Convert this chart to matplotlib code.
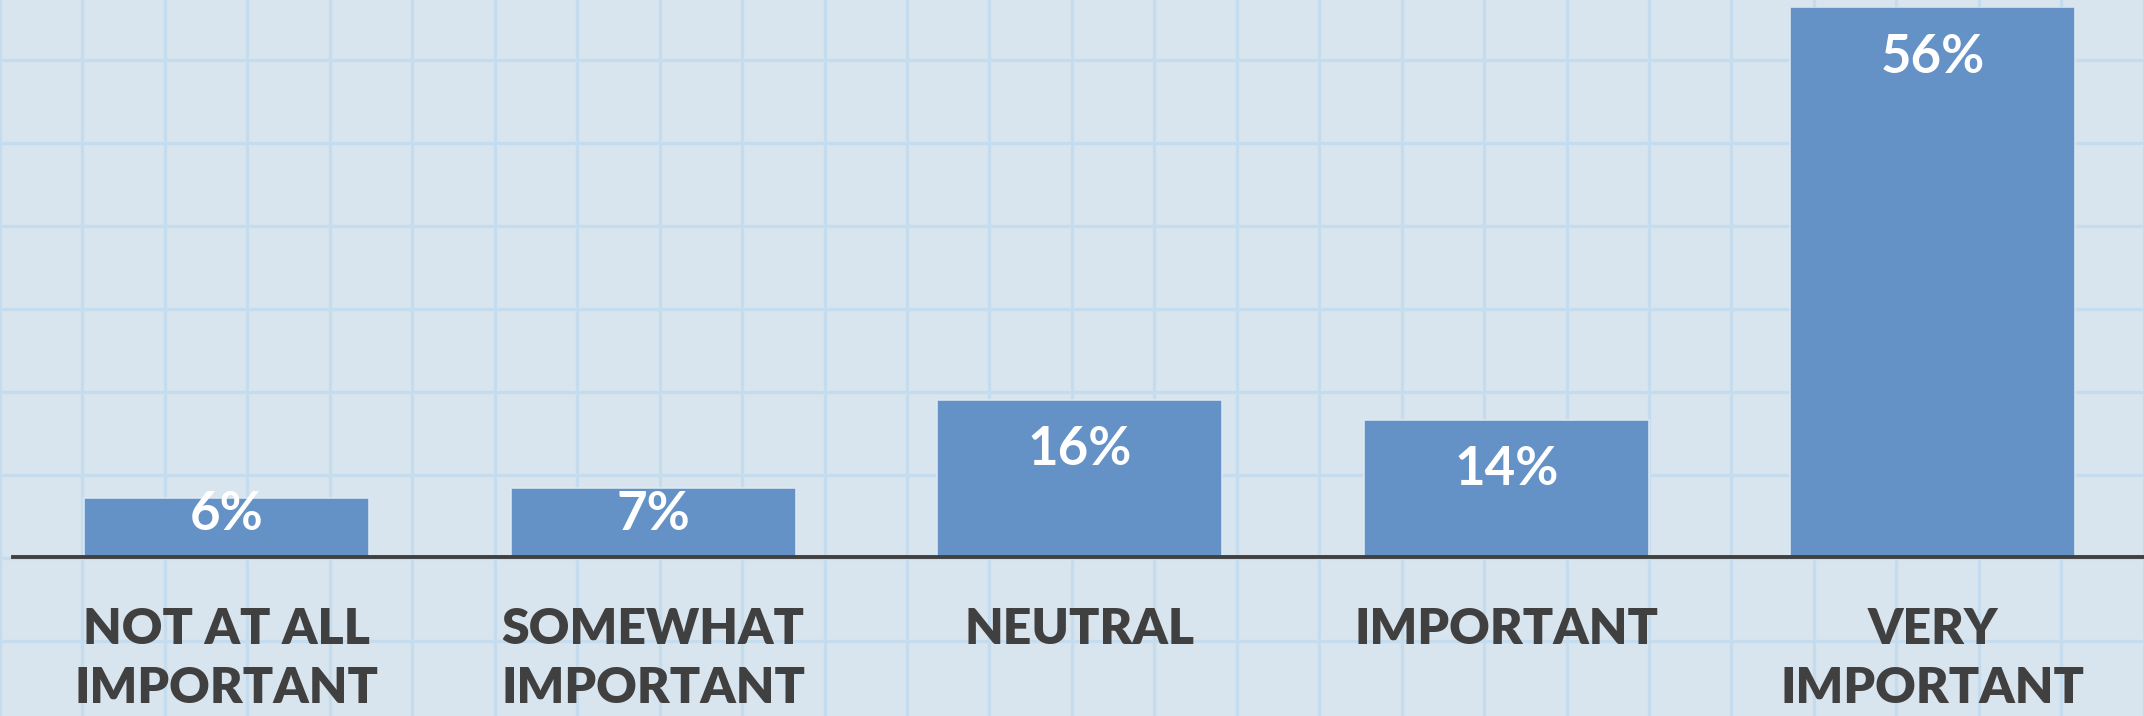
import matplotlib.pyplot as plt
import numpy as np

categories = ["NOT AT ALL\nIMPORTANT", "SOMEWHAT\nIMPORTANT", "NEUTRAL", "IMPORTANT", "VERY\nIMPORTANT"]
values = [6, 7, 16, 14, 56]
labels = ["6%", "7%", "16%", "14%", "56%"]

W, H = 2144, 716
bg = "#d9e5ee"
grid_c = "#c4dced"
bar_c = "#5f8ec4"
text_c = "#404040"

fig = plt.figure(figsize=(W / 100, H / 100), dpi=100, facecolor=bg)

# background "graph paper" grid
bg_ax = fig.add_axes([0, 0, 1, 1])
bg_ax.set_xlim(0, W)
bg_ax.set_ylim(H, 0)
bg_ax.set_facecolor(bg)
bg_ax.axis("off")
for gx in np.arange(0, W + 1, 82.45):
    bg_ax.axvline(gx, color=grid_c, lw=2.4, zorder=1)
for gy in np.arange(558 - 83 * 7, H + 1, 83):
    bg_ax.axhline(gy, color=grid_c, lw=2.4, zorder=1)

# bar axes: baseline at y=557 px, 56 reaches y=7 px
ax = fig.add_axes([0, (H - 557) / H, 1, 550 / H])
ax.patch.set_alpha(0)
x = np.arange(len(values))
ax.set_xlim(-0.531, 4.495)
ax.set_ylim(0, 56)
ax.bar(x, values, width=0.668, color=bar_c, alpha=0.95,
       edgecolor="#dce8f3", linewidth=1.2, zorder=2)
for xi, v, lab in zip(x, values, labels):
    ax.text(xi, max(v - 5.1, 4.3), lab, ha="center", va="center",
            color="white", fontsize=38, fontweight="bold", family="Lato", zorder=3)
ax.axhline(0, xmin=13 / W, xmax=1, color=text_c, lw=2.8, zorder=4, clip_on=False)
ax.axis("off")

for xi, cat in zip(x, categories):
    ax.text(xi, -5.1, cat, ha="center", va="top", color=text_c,
            fontsize=36, fontweight="heavy", family="Lato",
            linespacing=1.37, clip_on=False)

fig.savefig("out.png", dpi=100, facecolor=bg)
